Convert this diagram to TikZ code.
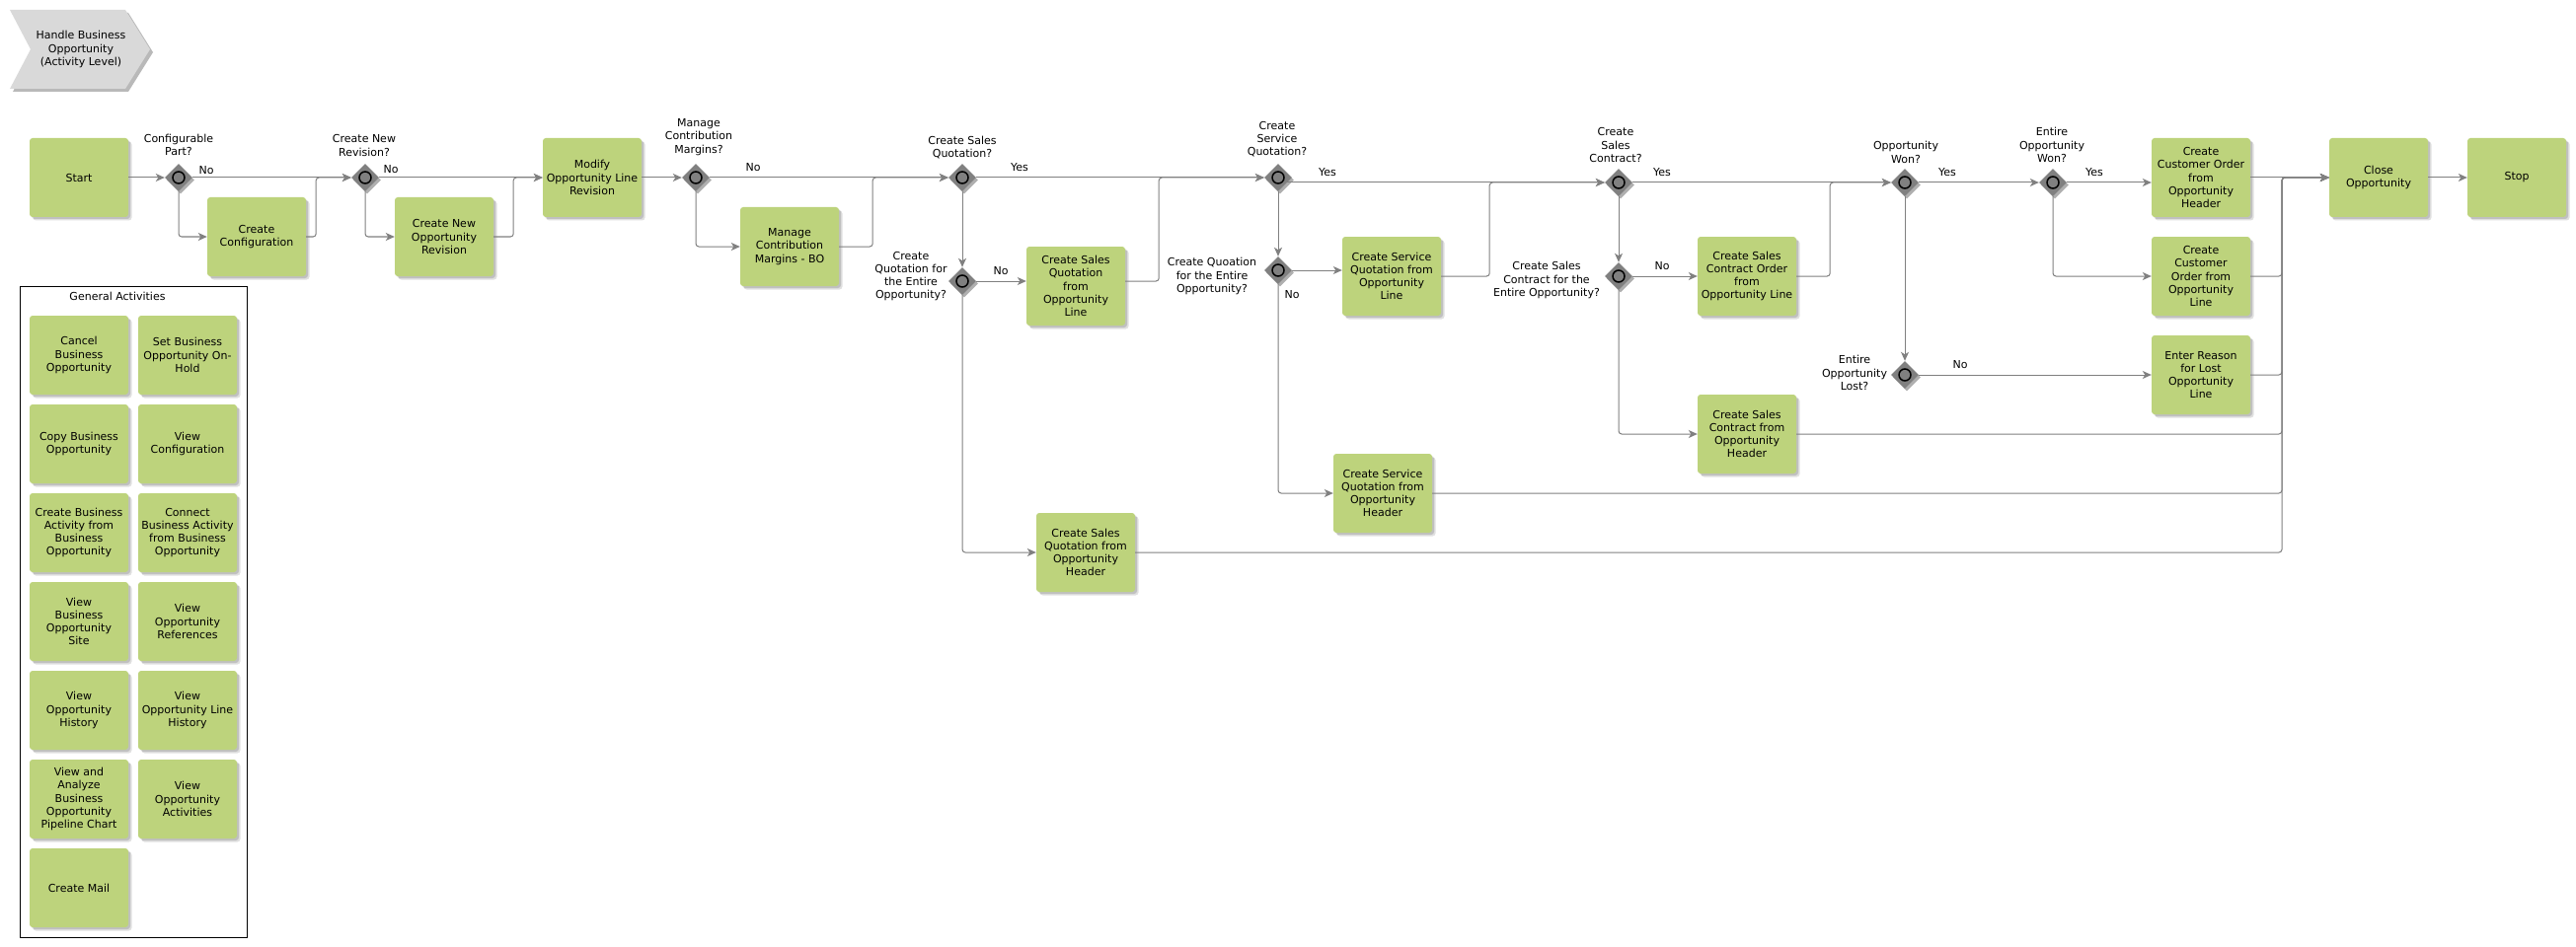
\documentclass[tikz,border=0pt]{standalone}
\usepackage{fontspec}
\setmainfont{DejaVu Sans}
\usetikzlibrary{shapes.geometric,arrows.meta,shadows,calc}
\definecolor{boxgreen}{RGB}{189,211,124}
\definecolor{gwgray}{RGB}{128,128,128}
\definecolor{gwshadow}{RGB}{175,175,175}
\definecolor{linegray}{RGB}{128,128,128}
\definecolor{chevgray}{RGB}{217,217,217}
\definecolor{chevshadow}{RGB}{185,185,185}
\begin{document}
\begin{tikzpicture}[x=1pt,y=-1pt,
  txt/.style={font=\fontsize{11}{13.2}\selectfont, align=center, inner sep=0pt},
  box/.style={txt, rectangle, rounded corners=3pt, fill=boxgreen, minimum width=100pt, minimum height=80pt,
     drop shadow={shadow xshift=3.5pt, shadow yshift=-3.5pt, fill=black, opacity=0.12},
     drop shadow={shadow xshift=2pt, shadow yshift=-2pt, fill=black, opacity=0.14}},
  gw/.style={diamond, minimum width=28pt, minimum height=28pt, inner sep=0pt, fill=gwgray,
     drop shadow={shadow xshift=2pt, shadow yshift=-2.5pt, fill=gwshadow, opacity=1},
     path picture={\draw[black, line width=1.5pt, fill=gwgray] (path picture bounding box.center) circle[radius=6pt];}},
  lbl/.style={txt},
  conn/.style={draw=linegray, line width=1pt, rounded corners=3pt, -{Stealth[length=9pt, width=8pt, inset=2.5pt]}},
]
\useasboundingbox (0,0) rectangle (2610,960);
\fill[white] (0,0) rectangle (2610,960);

% header chevron
\fill[chevshadow] (13,13) -- (130,13) -- (155,53) -- (130,93) -- (13,93) -- (34,53) -- cycle;
\fill[chevgray] (10,10) -- (127,10) -- (152,50) -- (127,90) -- (10,90) -- (31,50) -- cycle;
\node[txt] (chev) at (82,50) {Handle Business\\Opportunity\\(Activity Level)};

% main flow nodes
\node[box] (start) at (80,180) {Start};
\node[gw] (d1) at (181,180) {};
\node[box] (cfg) at (260,240) {Create\\Configuration};
\node[gw] (d2) at (370,180) {};
\node[box] (rev) at (450,240) {Create New\\Opportunity\\Revision};
\node[box] (mod) at (600,180) {Modify\\Opportunity Line\\Revision};
\node[gw] (d3) at (705,180) {};
\node[box] (cm) at (800,250) {Manage\\Contribution\\Margins - BO};
\node[gw] (d4) at (975,180) {};
\node[gw] (d5) at (975,285) {};
\node[box] (sql) at (1090,290) {Create Sales\\Quotation\\from\\Opportunity\\Line};
\node[box] (sqh) at (1100,560) {Create Sales\\Quotation from\\Opportunity\\Header};
\node[gw] (d6) at (1295,180) {};
\node[gw] (d6b) at (1295,274) {};
\node[box] (svl) at (1410,280) {Create Service\\Quotation from\\Opportunity\\Line};
\node[box] (svh) at (1401,500) {Create Service\\Quotation from\\Opportunity\\Header};
\node[gw] (d7) at (1640,185) {};
\node[gw] (d7b) at (1640,280) {};
\node[box] (scol) at (1770,280) {Create Sales\\Contract Order\\from\\Opportunity Line};
\node[box] (sch) at (1770,440) {Create Sales\\Contract from\\Opportunity\\Header};
\node[gw] (d8) at (1930,185) {};
\node[gw] (d9) at (1930,380) {};
\node[gw] (d10) at (2080,185) {};
\node[box] (coh) at (2230,180) {Create\\Customer Order\\from\\Opportunity\\Header};
\node[box] (col) at (2230,280) {Create\\Customer\\Order from\\Opportunity\\Line};
\node[box] (lost) at (2230,380) {Enter Reason\\for Lost\\Opportunity\\Line};
\node[box] (close) at (2410,180) {Close\\Opportunity};
\node[box] (stop) at (2550,180) {Stop};
\coordinate (jc) at (2312,180);

% gateway labels
\node[lbl] (l1) at (181,147) {Configurable\\Part?};
\node[lbl] (l2) at (369,147.5) {Create New\\Revision?};
\node[lbl] (l3) at (708,139) {Manage\\Contribution\\Margins?};
\node[lbl] (l4) at (975,149.5) {Create Sales\\Quotation?};
\node[lbl] (l5) at (923,280) {Create\\Quotation for\\the Entire\\Opportunity?};
\node[lbl] (l6) at (1294,141) {Create\\Service\\Quotation?};
\node[lbl] (l6b) at (1228,280) {Create Quoation\\for the Entire\\Opportunity?};
\node[lbl] (l7) at (1637,147) {Create\\Sales\\Contract?};
\node[lbl] (l7b) at (1567,284) {Create Sales\\Contract for the\\Entire Opportunity?};
\node[lbl] (l8) at (1931,154.5) {Opportunity\\Won?};
\node[lbl] (l9) at (1879,378) {Entire\\Opportunity\\Lost?};
\node[lbl] (l10) at (2079,147) {Entire\\Opportunity\\Won?};

% branch labels
\node[lbl] (n1) at (209,173) {No};
\node[lbl] (n2) at (396,172) {No};
\node[lbl] (n3) at (763,170) {No};
\node[lbl] (y4) at (1033,170) {Yes};
\node[lbl] (n5) at (1014,275) {No};
\node[lbl] (y6) at (1345,175) {Yes};
\node[lbl] (n6) at (1309,299) {No};
\node[lbl] (y7) at (1684,175) {Yes};
\node[lbl] (n7) at (1684,270) {No};
\node[lbl] (y8) at (1973,175) {Yes};
\node[lbl] (n9) at (1986,370) {No};
\node[lbl] (y10) at (2122,175) {Yes};

% connectors
\draw[conn] (start.east) -- (d1.west);
\draw[conn] (d1.east) -- (d2.west);
\draw[conn] (d1.south) |- (cfg.west);
\draw[conn] (cfg.east) -- ++(10,0) |- (d2.west);
\draw[conn] (d2.east) -- (mod.west);
\draw[conn] (d2.south) |- (rev.west);
\draw[conn] (rev.east) -- ++(20,0) |- (mod.west);
\draw[conn] (mod.east) -- (d3.west);
\draw[conn] (d3.east) -- (d4.west);
\draw[conn] (d3.south) |- (cm.west);
\draw[conn] (cm.east) -- ++(34,0) |- (d4.west);
\draw[conn] (d4.east) -- (d6.west);
\draw[conn] (d4.south) -- (d5.north);
\draw[conn] (d5.east) -- (d5.east -| sql.west);
\draw[conn] (d5.east -| sql.east) -- ++(34,0) |- (d6.west);
\draw[conn] (d5.south) |- (sqh.west);
\draw[conn] (sqh.east) -| (jc) -- (close.west);
\draw[conn] ($(d6.center)+(9,5)$) -- (d7.west);
\draw[conn] (d6.south) -- (d6b.north);
\draw[conn] (d6b.east) -- (d6b.east -| svl.west);
\draw[conn] (svl.east) -- ++(49,0) |- (d7.west);
\draw[conn] (d6b.south) |- (svh.west);
\draw[conn] (svh.east) -| (jc) -- (close.west);
\draw[conn] (d7.east) -- (d8.west);
\draw[conn] (d7.south) -- (d7b.north);
\draw[conn] (d7b.east) -- (scol.west);
\draw[conn] (scol.east) -- ++(34,0) |- (d8.west);
\draw[conn] (d7b.south) |- (sch.west);
\draw[conn] (sch.east) -| (jc) -- (close.west);
\draw[conn] (d8.east) -- (d10.west);
\draw[conn] (d8.south) -- (d9.north);
\draw[conn] (d9.east) -- (lost.west);
\draw[conn] (lost.east) -| (jc) -- (close.west);
\draw[conn] (d10.east) -- (d10.east -| coh.west);
\draw[conn] (d10.south) |- (col.west);
\draw[conn] (col.east) -| (jc) -- (close.west);
\draw[conn] (coh.east) -- (close.west);
\draw[conn] (close.east) -- (stop.west);

% general activities
\draw[black, line width=1pt] (20,290) rectangle (250,950);
\node[txt] (gatitle) at (119,300) {General Activities};
\node[box] (g1) at (80,360) {Cancel\\Business\\Opportunity};
\node[box] (g2) at (190,360) {Set Business\\Opportunity On-\\Hold};
\node[box] (g3) at (80,450) {Copy Business\\Opportunity};
\node[box] (g4) at (190,450) {View\\Configuration};
\node[box] (g5) at (80,540) {Create Business\\Activity from\\Business\\Opportunity};
\node[box] (g6) at (190,540) {Connect\\Business Activity\\from Business\\Opportunity};
\node[box] (g7) at (80,630) {View\\Business\\Opportunity\\Site};
\node[box] (g8) at (190,630) {View\\Opportunity\\References};
\node[box] (g9) at (80,720) {View\\Opportunity\\History};
\node[box] (g10) at (190,720) {View\\Opportunity Line\\History};
\node[box] (g11) at (80,810) {View and\\Analyze\\Business\\Opportunity\\Pipeline Chart};
\node[box] (g12) at (190,810) {View\\Opportunity\\Activities};
\node[box] (g13) at (80,900) {Create Mail};
\end{tikzpicture}
\end{document}
